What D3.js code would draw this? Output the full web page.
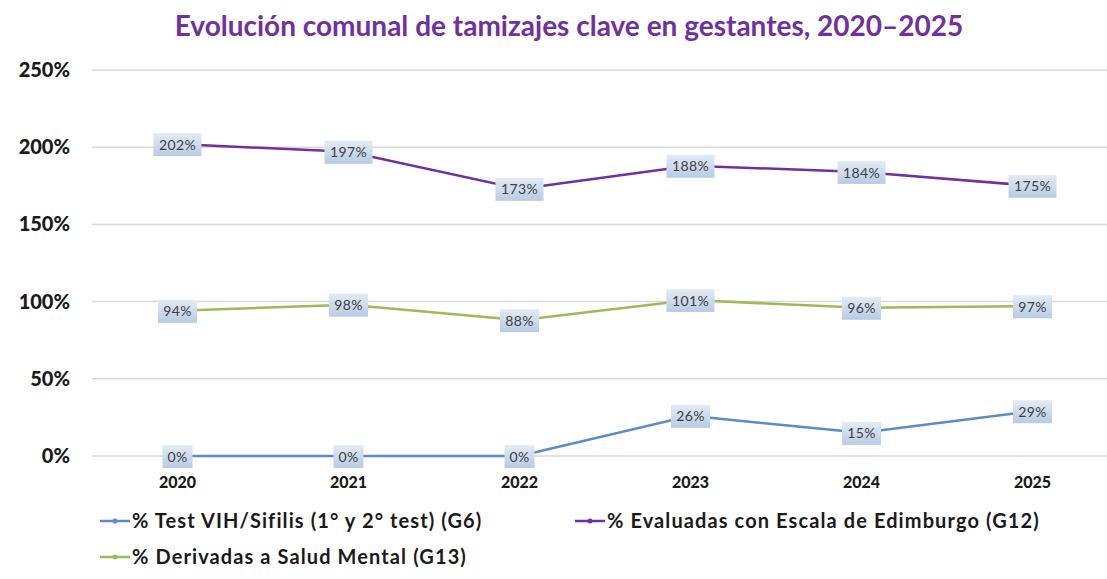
<!DOCTYPE html>
<html>
<head>
<meta charset="utf-8">
<script src="https://cdn.jsdelivr.net/npm/d3@7"></script>
<style>
  body { margin: 0; background: #fff; }
  svg { font-family: Lato, "Liberation Sans", sans-serif; }
</style>
</head>
<body>
<script>
// data
var years = ["2020", "2021", "2022", "2023", "2024", "2025"];
var yTicks = [0, 50, 100, 150, 200, 250];
var seriesNames = [
    "% Test VIH/Sifilis (1° y 2° test) (G6)",
    "% Evaluadas con Escala de Edimburgo (G12)",
    "% Derivadas a Salud Mental (G13)"
];
var vihValues = [0, 0, 0, 26, 15, 29];
var edimValues = [202, 197, 173, 188, 184, 175];
var saludValues = [94, 98, 88, 101, 96, 97];
var colors = ["#5B8BC9", "#7030A0", "#9BBB59"];

var series = [
    { name: seriesNames[0], values: vihValues, color: colors[0] },
    { name: seriesNames[1], values: edimValues, color: colors[1] },
    { name: seriesNames[2], values: saludValues, color: colors[2] }
];

var W = 1107, H = 579;
var m = [70, 0, 123, 92]; //top right bottom left
var plotRight = 1118;

var svg = d3.select("body").append("svg")
    .attr("width", W)
    .attr("height", H);

var defs = svg.append("defs");
var grad = defs.append("linearGradient")
    .attr("id", "lblGrad")
    .attr("x1", 0).attr("y1", 0).attr("x2", 0).attr("y2", 1);
grad.append("stop").attr("offset", "0%").attr("stop-color", "#E3EBF5");
grad.append("stop").attr("offset", "100%").attr("stop-color", "#B7CBE4");

//scales
var x = d3.scaleBand()
    .domain(years)
    .range([m[3], plotRight]);
var y = d3.scaleLinear()
    .domain([0, 250])
    .range([H - m[2], m[0]]);

// title
svg.append("text")
    .attr("x", 569)
    .attr("y", 36)
    .attr("text-anchor", "middle")
    .attr("font-size", 28)
    .attr("font-weight", "bold")
    .attr("fill", "#7030A0")
    .text("Evolución comunal de tamizajes clave en gestantes, 2020–2025");

// gridlines
svg.append("g").selectAll("line")
    .data(yTicks)
    .enter().append("line")
    .attr("x1", m[3])
    .attr("x2", plotRight)
    .attr("y1", function (d) { return y(d); })
    .attr("y2", function (d) { return y(d); })
    .attr("stroke", "#D9D9D9")
    .attr("stroke-width", 1.5);

// y labels
svg.append("g").selectAll("text")
    .data(yTicks)
    .enter().append("text")
    .attr("x", 70)
    .attr("y", function (d) { return y(d); })
    .attr("dy", "0.35em")
    .attr("text-anchor", "end")
    .attr("font-size", 20)
    .attr("font-weight", 900)
    .attr("fill", "#1a1a1a")
    .text(function (d) { return d + "%"; });

// x labels
svg.append("g").selectAll("text")
    .data(years)
    .enter().append("text")
    .attr("x", function (d) { return x(d) + x.bandwidth() / 2; })
    .attr("y", 488)
    .attr("text-anchor", "middle")
    .attr("font-size", 16)
    .attr("font-weight", 900)
    .attr("fill", "#1a1a1a")
    .text(function (d) { return d; });

var line = d3.line()
    .x(function (d, i) { return x(years[i]) + x.bandwidth() / 2; })
    .y(function (d) { return y(d); });

// lines
svg.append("g").selectAll("path")
    .data(series)
    .enter().append("path")
    .attr("d", function (d) { return line(d.values); })
    .attr("fill", "none")
    .attr("stroke", function (d) { return d.color; })
    .attr("stroke-width", 2.5);

// data labels
function boxW(d) { return String(d).length * 9 + 21; }
series.forEach(function (s) {
    var g = svg.append("g").selectAll("g")
        .data(s.values)
        .enter().append("g")
        .attr("transform", function (d, i) {
            return "translate(" + (x(years[i]) + x.bandwidth() / 2) + "," + y(d) + ")";
        });
    g.append("rect")
        .attr("x", function (d) { return -boxW(d) / 2; })
        .attr("y", -11)
        .attr("width", boxW)
        .attr("height", 23)
        .attr("fill", "url(#lblGrad)");
    g.append("text")
        .attr("text-anchor", "middle")
        .attr("dy", "0.4em")
        .attr("font-size", 14)
        .attr("letter-spacing", 0.4)
        .attr("fill", "#404040")
        .text(function (d) { return d + "%"; });
});

// legend
var legendPos = [[100, 521], [575, 521], [100, 557]];
var leg = svg.append("g").selectAll("g")
    .data(series)
    .enter().append("g")
    .attr("transform", function (d, i) { return "translate(" + legendPos[i][0] + "," + legendPos[i][1] + ")"; });
leg.append("line")
    .attr("x1", 0).attr("x2", 30)
    .attr("y1", 0).attr("y2", 0)
    .attr("stroke", function (d) { return d.color; })
    .attr("stroke-width", 2.5);
leg.append("circle")
    .attr("cx", 15).attr("cy", 0).attr("r", 2.5)
    .attr("fill", function (d) { return d.color; });
leg.append("text")
    .attr("x", 32)
    .attr("dy", "0.36em")
    .attr("font-size", 20)
    .attr("font-weight", "bold")
    .attr("letter-spacing", 1.1)
    .attr("fill", "#1a1a1a")
    .text(function (d) { return d.name; });
</script>
</body>
</html>
